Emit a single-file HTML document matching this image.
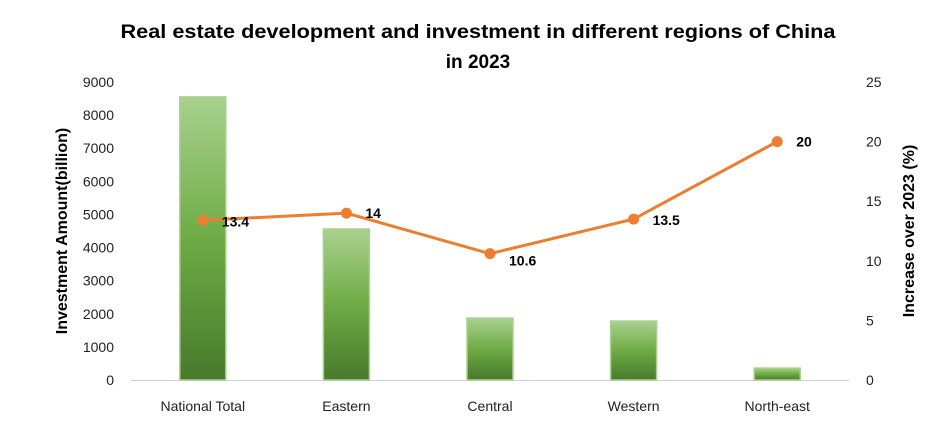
<!DOCTYPE html>
<html><head><meta charset="utf-8"><style>
html,body{margin:0;padding:0;background:#fff;}
svg{display:block;font-family:"Liberation Sans",sans-serif;}
</style></head><body>
<svg id="chart" width="951" height="421" viewBox="0 0 951 421">
<defs>
<linearGradient id="barGrad" x1="0" y1="0" x2="0" y2="1">
<stop offset="0" stop-color="#a9d18e"/>
<stop offset="0.5" stop-color="#6eab45"/>
<stop offset="1" stop-color="#477a2c"/>
</linearGradient>
</defs>
<text x="478" y="38" text-anchor="middle" font-size="19" font-weight="bold" fill="#000" textLength="715" lengthAdjust="spacingAndGlyphs">Real estate development and investment in different regions of China</text>
<text x="478" y="68" text-anchor="middle" font-size="19" font-weight="bold" fill="#000">in 2023</text>
<text transform="translate(67,231) rotate(-90)" text-anchor="middle" font-size="16" font-weight="bold" fill="#000">Investment Amount(billion)</text>
<text transform="translate(914,231) rotate(-90)" text-anchor="middle" font-size="16" font-weight="bold" fill="#000">Increase over 2023 (%)</text>
<g id="plot"></g>
</svg>
<script>
const categories = ["National Total","Eastern","Central","Western","North-east"];
const investment = [8550,4560,1870,1780,360];
const growth = [13.4,14,10.6,13.5,20];
const leftTicks = [0,1000,2000,3000,4000,5000,6000,7000,8000,9000];
const rightTicks = [0,5,10,15,20,25];

const NS="http://www.w3.org/2000/svg";
const plot=document.getElementById('plot');
const x0=131,x1=849,yBase=380,yTop=82;
const yL=v=>yBase-(v/9000)*(yBase-yTop);
const yR=v=>yBase-(v/25)*(yBase-yTop);
const band=(x1-x0)/categories.length;
const xC=i=>x0+band*(i+0.5);
function mk(tag,attrs){const e=document.createElementNS(NS,tag);for(const k in attrs)e.setAttribute(k,attrs[k]);plot.appendChild(e);return e;}

leftTicks.forEach(t=>{
  const e=mk('text',{x:114,y:yL(t)+5,'text-anchor':'end','font-size':14,fill:'#222'});
  e.textContent=t;
  
  
});
rightTicks.forEach(t=>{
  const e=mk('text',{x:866,y:yR(t)+5,'text-anchor':'start','font-size':14,fill:'#222'});
  e.textContent=t;
  
  
});
const ax=mk('line',{x1:x0,x2:x1,y1:yBase+0.5,y2:yBase+0.5,stroke:'#d0d0d0','stroke-width':1});



categories.forEach((c,i)=>{
  const w=46,top=yL(investment[i]);
  const r=mk('rect',{x:xC(i)-w/2,y:top,width:w,height:yBase-top,fill:'url(#barGrad)',stroke:'#a9d18e','stroke-width':1.5});
  
  
  const l=mk('text',{x:xC(i),y:411,'text-anchor':'middle','font-size':14,fill:'#222'});
  l.textContent=c;
  
  
});

const pts=growth.map((g,i)=>xC(i)+','+yR(g)).join(' ');
const pl=mk('polyline',{points:pts,fill:'none',stroke:'#ed7d31','stroke-width':3,'stroke-linejoin':'round'});


growth.forEach((g,i)=>{
  const c=mk('circle',{cx:xC(i),cy:yR(g),r:5.5,fill:'#ed7d31'});
  
  
  const t=mk('text',{x:xC(i)+19,y:yR(g)+6 + (i===2?6:0),'font-size':14,'font-weight':'bold',fill:'#000'});
  if(i===1||i===4){t.setAttribute('y',yR(g)+5);t.setAttribute('x',xC(i)+19);}
  t.textContent=g;
  
  
});
</script>
</body></html>
